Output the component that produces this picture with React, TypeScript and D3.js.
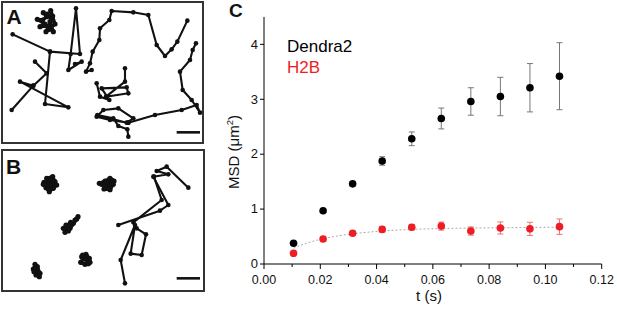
import React from "react";
import * as d3 from "d3";

// ---------- Panel C data ----------
const times = [0.0105, 0.021, 0.0315, 0.042, 0.0525, 0.063, 0.0735, 0.084, 0.0945, 0.105];
const dendra2 = [0.377, 0.97, 1.46, 1.876, 2.28, 2.65, 2.96, 3.05, 3.21, 3.42];
const dendra2Err = [0.02, 0.03, 0.04, 0.077, 0.125, 0.19, 0.25, 0.35, 0.44, 0.61];
const h2b = [0.195, 0.455, 0.56, 0.63, 0.67, 0.69, 0.6, 0.656, 0.64, 0.68];
const h2bErr = [0.03, 0.04, 0.04, 0.05, 0.05, 0.073, 0.075, 0.11, 0.12, 0.14];
const fitT = [0.0105, 0.0158, 0.021, 0.026, 0.0315, 0.042, 0.0525, 0.063, 0.0735, 0.084, 0.0945, 0.105];
const fitV = [0.29, 0.39, 0.46, 0.51, 0.55, 0.6, 0.63, 0.645, 0.655, 0.66, 0.665, 0.67];
const xTicks = [0, 0.02, 0.04, 0.06, 0.08, 0.1, 0.12];
const xMinorTicks = [0.01, 0.03, 0.05, 0.07, 0.09, 0.11];
const yTicks = [0, 1, 2, 3, 4];
const legend = ["Dendra2", "H2B"];

// ---------- Panel A trajectories (image units) ----------
const trajA: [number, number][][] = [
  [[130, 38], [140, 50], [128, 60], [112, 58], [135, 72], [120, 80], [145, 78], [160, 95], [150, 65], [158, 48], [152, 32], [165, 72], [148, 88], [138, 95], [155, 60], [142, 42]],
  [[38, 103], [150, 155], [240, 162], [228, 25], [212, 162], [205, 210], [245, 185], [225, 192]],
  [[150, 155], [135, 312], [205, 322], [60, 245], [100, 257], [140, 220], [105, 185]],
  [[100, 257], [35, 330]],
  [[562, 62], [532, 125], [515, 148], [495, 168], [470, 135], [445, 45], [400, 37], [335, 33], [328, 60], [300, 85], [298, 120], [278, 155], [270, 190], [258, 215], [275, 210]],
  [[290, 250], [300, 290], [328, 300], [305, 265], [380, 262], [385, 280], [318, 290], [375, 245], [375, 205]],
  [[588, 130], [578, 150], [570, 180], [540, 215], [548, 270], [575, 300], [600, 338], [590, 315], [545, 330], [465, 345], [385, 368]],
  [[385, 368], [330, 360], [290, 350], [310, 330], [355, 325], [400, 355], [380, 368], [292, 345], [340, 355], [355, 378], [382, 388], [385, 410]],
];
const scaleBarA: [number, number][] = [[530, 397], [600, 397]];

// ---------- Panel B trajectories (image units) ----------
const trajB: [number, number][][] = [
  [[140, 100], [158, 95], [165, 110], [150, 118], [132, 112], [138, 128], [160, 130], [170, 120], [148, 140], [135, 120], [155, 105], [145, 132], [162, 118], [130, 118], [150, 100]],
  [[298, 115], [315, 108], [330, 100], [342, 108], [325, 125], [312, 132], [330, 134], [340, 118], [320, 112], [305, 118], [322, 120], [335, 105], [315, 125]],
  [[195, 262], [205, 245], [220, 235], [234, 215], [225, 225], [210, 250], [198, 240], [215, 238], [230, 222], [205, 258], [190, 250], [212, 232]],
  [[245, 335], [258, 328], [268, 340], [270, 352], [255, 358], [242, 352], [250, 342], [262, 345], [248, 330], [265, 356], [255, 338]],
  [[105, 358], [112, 365], [100, 372], [115, 380], [108, 390], [120, 385], [102, 380], [112, 372], [118, 395], [105, 368]],
  [[565, 128], [500, 65], [470, 78], [505, 88], [460, 95], [505, 180], [480, 197], [355, 240]],
  [[462, 95], [485, 165], [400, 232], [410, 250], [438, 268], [425, 330], [392, 326], [405, 240], [362, 345], [375, 415]],
];
const scaleBarB: [number, number][] = [[530, 400], [600, 400]];

const FONT = "'Liberation Sans', Arial, Helvetica, sans-serif";

function Trajectories({ paths, bar, ox, oy }: { paths: [number, number][][]; bar: [number, number][]; ox: number; oy: number }) {
  const sx = d3.scaleLinear().domain([0, 630]).range([ox, ox + 210]);
  const sy = d3.scaleLinear().domain([0, 435]).range([oy, oy + 145]);
  const line = d3.line<[number, number]>().x((d) => sx(d[0])).y((d) => sy(d[1]));
  return (
    <g>
      {paths.map((p, i) => {
        const ex = d3.extent(p, (d) => d[0]) as [number, number];
        const ey = d3.extent(p, (d) => d[1]) as [number, number];
        const dense = ex[1] - ex[0] < 70 && ey[1] - ey[0] < 70;
        return (
          <g key={i}>
            <path d={line(p) || ""} fill="none" stroke="#111" strokeWidth={dense ? 3.4 : 2.1} strokeLinejoin="round" />
            {p.map((pt, j) => (
              <circle key={j} cx={sx(pt[0])} cy={sy(pt[1])} r={dense ? 2.6 : 2.3} fill="#111" />
            ))}
          </g>
        );
      })}
      <path d={line(bar) || ""} stroke="#111" strokeWidth={2.6} />
    </g>
  );
}

export default function App() {
  const x = d3.scaleLinear().domain([0, 0.12]).range([264, 601.7]);
  const y = d3.scaleLinear().domain([0, 4.5]).range([264, 16.9]);
  const fitLine = d3
    .line<number>()
    .x((_, i) => x(fitT[i]))
    .y((d) => y(d))
    .curve(d3.curveMonotoneX);

  return (
    <svg width={617} height={313} style={{ position: "absolute", left: 0, top: 0, background: "#fff" }} fontFamily={FONT}>
      {/* Panel A */}
      <rect x={2} y={2} width={201} height={141} fill="#fff" stroke="#333" strokeWidth={2} />
      <Trajectories paths={trajA} bar={scaleBarA} ox={0} oy={0} />
      <text x={6.5} y={24} fontSize={21} fontWeight="bold" fill="#111">A</text>

      {/* Panel B */}
      <rect x={2} y={150} width={202} height={141} fill="none" stroke="#333" strokeWidth={2} />
      <Trajectories paths={trajB} bar={scaleBarB} ox={0} oy={145} />
      <text x={6} y={174} fontSize={21} fontWeight="bold" fill="#111">B</text>

      {/* Panel C */}
      <text x={229} y={17} fontSize={19} fontWeight="bold" fill="#111">C</text>

      {/* fit line */}
      <path d={fitLine(fitV) || ""} fill="none" stroke="#aaa" strokeWidth={1} strokeDasharray="2,2" />

      {/* H2B error bars */}
      {times.map((t, i) => (
        <g key={"he" + i} stroke="#ef7070" strokeWidth={1}>
          <line x1={x(t)} x2={x(t)} y1={y(h2b[i] - h2bErr[i])} y2={y(h2b[i] + h2bErr[i])} />
          <line x1={x(t) - 3} x2={x(t) + 3} y1={y(h2b[i] - h2bErr[i])} y2={y(h2b[i] - h2bErr[i])} />
          <line x1={x(t) - 3} x2={x(t) + 3} y1={y(h2b[i] + h2bErr[i])} y2={y(h2b[i] + h2bErr[i])} />
        </g>
      ))}
      {/* Dendra2 error bars */}
      {times.map((t, i) => (
        <g key={"de" + i} stroke="#777" strokeWidth={1}>
          <line x1={x(t)} x2={x(t)} y1={y(dendra2[i] - dendra2Err[i])} y2={y(dendra2[i] + dendra2Err[i])} />
          <line x1={x(t) - 3} x2={x(t) + 3} y1={y(dendra2[i] - dendra2Err[i])} y2={y(dendra2[i] - dendra2Err[i])} />
          <line x1={x(t) - 3} x2={x(t) + 3} y1={y(dendra2[i] + dendra2Err[i])} y2={y(dendra2[i] + dendra2Err[i])} />
        </g>
      ))}
      {times.map((t, i) => (
        <circle key={"hd" + i} cx={x(t)} cy={y(h2b[i])} r={3.8} fill="#ee1c24" />
      ))}
      {times.map((t, i) => (
        <circle key={"dd" + i} cx={x(t)} cy={y(dendra2[i])} r={3.8} fill="#000" />
      ))}

      {/* axes */}
      <line x1={x(0)} x2={x(0)} y1={y(0)} y2={y(4.5)} stroke="#000" strokeWidth={1} />
      <line x1={x(0)} x2={x(0.12)} y1={y(0)} y2={y(0)} stroke="#000" strokeWidth={1} />
      {xTicks.map((t) => (
        <g key={"xt" + t}>
          <line x1={x(t)} x2={x(t)} y1={y(0)} y2={y(0) + 5} stroke="#000" strokeWidth={1} />
          <text x={x(t)} y={283.5} fontSize={12.5} textAnchor="middle" fill="#111">
            {d3.format(".2f")(t)}
          </text>
        </g>
      ))}
      {xMinorTicks.map((t) => (
        <line key={"xm" + t} x1={x(t)} x2={x(t)} y1={y(0)} y2={y(0) + 3} stroke="#000" strokeWidth={1} />
      ))}
      {yTicks.map((v) => (
        <g key={"yt" + v}>
          <line x1={x(0) - 4} x2={x(0)} y1={y(v)} y2={y(v)} stroke="#000" strokeWidth={1} />
          <text x={258} y={y(v)} dy="0.33em" fontSize={13} textAnchor="end" fill="#111">
            {v}
          </text>
        </g>
      ))}

      <text x={429} y={301} fontSize={15} textAnchor="middle" fill="#111">t (s)</text>
      <text transform="translate(238.5,152) rotate(-90)" fontSize={15} textAnchor="middle" fill="#111">
        MSD (μm
        <tspan fontSize={9.5} dy={-6}>2</tspan>
        <tspan dy={6}>)</tspan>
      </text>

      {/* legend */}
      <text x={287} y={52} fontSize={17} fill="#000">{legend[0]}</text>
      <text x={287} y={73} fontSize={17} fill="#ee1c24">{legend[1]}</text>
    </svg>
  );
}
